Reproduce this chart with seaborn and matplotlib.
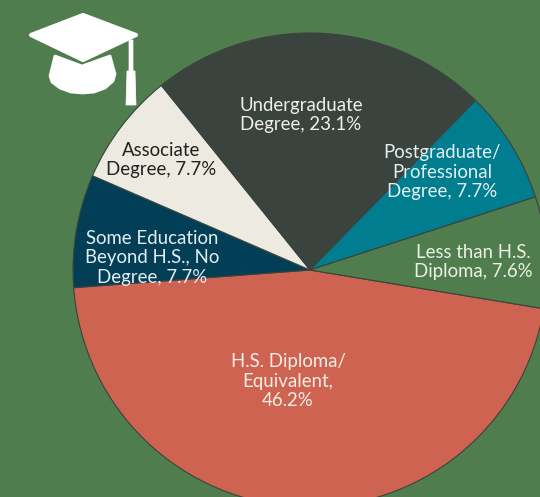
import matplotlib.pyplot as plt
from matplotlib.patches import Polygon
import seaborn as sns

categories = ['H.S. Diploma/\nEquivalent,\n46.2%',
              'Some Education\nBeyond H.S., No\nDegree, 7.7%',
              'Associate\nDegree, 7.7%',
              'Undergraduate\nDegree, 23.1%',
              'Postgraduate/\nProfessional\nDegree, 7.7%',
              'Less than H.S.\nDiploma, 7.6%']
shares = [46.2, 7.7, 7.7, 23.1, 7.7, 7.6]
colors = ['#CD6350', '#023F57', '#EDEBE1', '#3B433E', '#007D8F', '#507D4D']
label_colors = ['#F3EFE6', '#E4EDEE', '#20221F', '#F0F0E8', '#E4EFEF', '#EEF0E6']
label_pos = [(288, 381), (152, 258), (161, 160), (301, 115), (442, 172), (473, 262)]

BG = '#507D4D'

sns.set_theme(style='white')
plt.rcParams['font.family'] = ['Lato', 'DejaVu Sans']

fig = plt.figure(figsize=(5.4, 4.97), dpi=100, facecolor=BG)
ax = fig.add_axes([0, 0, 1, 1])
ax.set_facecolor(BG)

ax.pie(shares, colors=colors, startangle=-9.4, counterclock=False,
       center=(310, 227), radius=237, frame=True,
       wedgeprops={'edgecolor': '#3B433E', 'linewidth': 0.8})

ax.set_xlim(0, 540)
ax.set_ylim(0, 497)
ax.set_aspect('equal')
ax.axis('off')

for text, pos, c in zip(categories, label_pos, label_colors):
    ax.text(pos[0], 497 - pos[1], text, color=c, fontsize=13.4,
            ha='center', va='center', linespacing=1.15, zorder=5)

# graduation cap icon, pixel coords from the top left
def px(points):
    return [(x, 497 - y) for x, y in points]

white = {'facecolor': 'white', 'edgecolor': 'white', 'joinstyle': 'round', 'zorder': 6}
ax.add_patch(Polygon(px([(83, 15), (31, 35), (83, 60), (136, 35)]), linewidth=3, **white))
ax.add_patch(Polygon(px([(55, 56), (82, 66), (110, 56), (115, 74), (113, 81), (105, 88),
                         (94, 92), (83, 93), (71, 92), (60, 88), (52, 82), (50, 76)]),
                     linewidth=2, **white))
ax.add_patch(Polygon(px([(129, 40), (133, 40), (133, 71), (135, 71), (136, 105),
                         (126, 105), (127, 71), (129, 71)]), linewidth=0.5, **white))

fig.savefig('out.png', dpi=100, facecolor=BG)
plt.close()
